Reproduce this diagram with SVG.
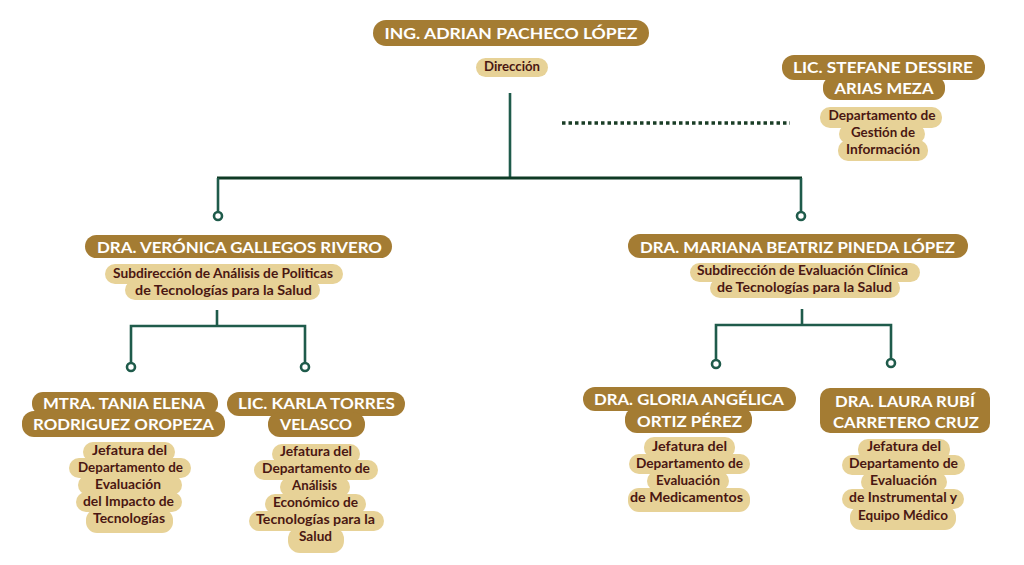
<svg xmlns="http://www.w3.org/2000/svg" width="1024" height="565" viewBox="0 0 1024 565">
<style>
.bg{fill:#ffffff}
.gold{fill:#a47c33}
.sand{fill:#e7d297}
.nm{font-family:Lato,"Open Sans","Liberation Sans",sans-serif;font-weight:700;fill:#ffffff;text-anchor:middle;font-size:15px}
.tt{font-family:Lato,"Open Sans","Liberation Sans",sans-serif;font-weight:700;fill:#4a1712;text-anchor:middle;font-size:12.5px}
.ln{stroke:#1f5b4b;stroke-width:2.6;fill:none}
.lnd{stroke:#0e3a25;stroke-width:3;fill:none}
.dot{fill:#ffffff;stroke:#1f5b4b;stroke-width:2.6}
.dash{stroke:#1a3d26;stroke-width:3.5;stroke-dasharray:3.5 3;fill:none}
</style>
<rect class="bg" x="0" y="0" width="1024" height="565"/>

<g id="connectors">
  <line class="ln" x1="510" y1="93" x2="510" y2="178"/>
  <line class="lnd" x1="217" y1="178" x2="802" y2="178"/>
  <line class="ln" x1="218" y1="178" x2="218" y2="212"/>
  <line class="ln" x1="801" y1="178" x2="801" y2="212"/>
  <circle class="dot" cx="218" cy="216" r="4"/>
  <circle class="dot" cx="801" cy="216" r="4"/>
  <line class="dash" x1="562" y1="123" x2="790" y2="123"/>
  <polyline class="ln" points="217,310 217,326"/>
  <polyline class="ln" points="131,363 131,326 305,326 305,363"/>
  <circle class="dot" cx="131" cy="367" r="4"/>
  <circle class="dot" cx="305" cy="367" r="4"/>
  <polyline class="ln" points="802,309 802,325"/>
  <polyline class="ln" points="716,360 716,325 891,325 891,359"/>
  <circle class="dot" cx="716" cy="364" r="4"/>
  <circle class="dot" cx="891" cy="363" r="4"/>
</g>

<g id="director">
  <rect class="gold" x="373" y="20" width="276" height="26" rx="13"/>
  <text class="nm" x="511" y="39" font-size="17" textLength="253" lengthAdjust="spacingAndGlyphs">ING. ADRIAN PACHECO LÓPEZ</text>
  <rect class="sand" x="476" y="58" width="72" height="19" rx="9.5"/>
  <text class="tt" x="512" y="71" textLength="56" lengthAdjust="spacingAndGlyphs">Dirección</text>
</g>

<g id="stefane">
  <rect class="gold" x="782" y="55" width="203" height="25" rx="12"/>
  <rect class="gold" x="823" y="76" width="122" height="24" rx="11"/>
  <text class="nm" x="883" y="73" textLength="180" lengthAdjust="spacingAndGlyphs">LIC. STEFANE DESSIRE</text>
  <text class="nm" x="884" y="94" textLength="99" lengthAdjust="spacingAndGlyphs">ARIAS MEZA</text>
  <rect class="sand" x="820" y="107" width="122" height="21" rx="10"/>
  <rect class="sand" x="839" y="124" width="86" height="20" rx="10"/>
  <rect class="sand" x="838" y="140" width="90" height="21" rx="10"/>
  <text class="tt" x="882" y="120" textLength="107" lengthAdjust="spacingAndGlyphs">Departamento de</text>
  <text class="tt" x="883" y="137" textLength="64" lengthAdjust="spacingAndGlyphs">Gestión de</text>
  <text class="tt" x="883" y="154" textLength="74" lengthAdjust="spacingAndGlyphs">Información</text>
</g>

<g id="veronica">
  <rect class="gold" x="85" y="235" width="307" height="23" rx="11.5"/>
  <text class="nm" x="239.5" y="252.5" textLength="285" lengthAdjust="spacingAndGlyphs">DRA. VERÓNICA GALLEGOS RIVERO</text>
  <rect class="sand" x="105" y="264" width="238" height="20" rx="10"/>
  <rect class="sand" x="125" y="280" width="195" height="20" rx="10"/>
  <text class="tt" x="223" y="277.5" textLength="220" lengthAdjust="spacingAndGlyphs">Subdirección de Análisis de Politicas</text>
  <text class="tt" x="223.5" y="294.5" textLength="177" lengthAdjust="spacingAndGlyphs">de Tecnologías para la Salud</text>
</g>

<g id="mariana">
  <rect class="gold" x="628" y="234" width="340" height="24" rx="12"/>
  <text class="nm" x="797.5" y="252.5" textLength="315" lengthAdjust="spacingAndGlyphs">DRA. MARIANA BEATRIZ PINEDA LÓPEZ</text>
  <rect class="sand" x="690" y="263" width="230" height="19" rx="9.5"/>
  <rect class="sand" x="710" y="278" width="190" height="20" rx="10"/>
  <text class="tt" x="802.5" y="274.5" textLength="211" lengthAdjust="spacingAndGlyphs">Subdirección de Evaluación Clínica</text>
  <text class="tt" x="804.5" y="291.5" textLength="175" lengthAdjust="spacingAndGlyphs">de Tecnologías para la Salud</text>
</g>

<g id="tania">
  <rect class="gold" x="32" y="392" width="186" height="23" rx="11"/>
  <rect class="gold" x="22" y="411" width="203" height="26" rx="12"/>
  <text class="nm" x="124" y="409" textLength="162" lengthAdjust="spacingAndGlyphs">MTRA. TANIA ELENA</text>
  <text class="nm" x="123.5" y="430" textLength="181" lengthAdjust="spacingAndGlyphs">RODRIGUEZ OROPEZA</text>
  <rect class="sand" x="83" y="442" width="92" height="20" rx="10"/>
  <rect class="sand" x="69" y="458" width="122" height="20" rx="10"/>
  <rect class="sand" x="78" y="475" width="104" height="20" rx="10"/>
  <rect class="sand" x="76" y="492" width="106" height="20" rx="10"/>
  <rect class="sand" x="86" y="509" width="87" height="24" rx="11"/>
  <text class="tt" x="129.5" y="454.5" textLength="75" lengthAdjust="spacingAndGlyphs">Jefatura del</text>
  <text class="tt" x="130.5" y="471.5" textLength="105" lengthAdjust="spacingAndGlyphs">Departamento de</text>
  <text class="tt" x="128" y="488.5" textLength="66" lengthAdjust="spacingAndGlyphs">Evaluación</text>
  <text class="tt" x="128.5" y="505.5" textLength="91" lengthAdjust="spacingAndGlyphs">del Impacto de</text>
  <text class="tt" x="129" y="522.5" textLength="72" lengthAdjust="spacingAndGlyphs">Tecnologías</text>
</g>

<g id="karla">
  <rect class="gold" x="227" y="392" width="178" height="24" rx="12"/>
  <rect class="gold" x="268" y="412" width="97" height="25" rx="12"/>
  <text class="nm" x="316.5" y="409" textLength="157" lengthAdjust="spacingAndGlyphs">LIC. KARLA TORRES</text>
  <text class="nm" x="316" y="430" textLength="72" lengthAdjust="spacingAndGlyphs">VELASCO</text>
  <rect class="sand" x="272" y="444" width="88" height="20" rx="10"/>
  <rect class="sand" x="254" y="460" width="124" height="20" rx="10"/>
  <rect class="sand" x="280" y="477" width="70" height="20" rx="10"/>
  <rect class="sand" x="265" y="494" width="101" height="20" rx="10"/>
  <rect class="sand" x="249" y="511" width="135" height="20" rx="10"/>
  <rect class="sand" x="288" y="527" width="56" height="26" rx="12"/>
  <text class="tt" x="316" y="456" textLength="72" lengthAdjust="spacingAndGlyphs">Jefatura del</text>
  <text class="tt" x="316" y="473" textLength="108" lengthAdjust="spacingAndGlyphs">Departamento de</text>
  <text class="tt" x="314.5" y="490" textLength="45" lengthAdjust="spacingAndGlyphs">Análisis</text>
  <text class="tt" x="315.5" y="507" textLength="85" lengthAdjust="spacingAndGlyphs">Económico de</text>
  <text class="tt" x="315.5" y="524" textLength="119" lengthAdjust="spacingAndGlyphs">Tecnologías para la</text>
  <text class="tt" x="315.5" y="541" textLength="33" lengthAdjust="spacingAndGlyphs">Salud</text>
</g>

<g id="gloria">
  <rect class="gold" x="583" y="387" width="213" height="24" rx="12"/>
  <rect class="gold" x="625" y="407" width="127" height="26" rx="12"/>
  <text class="nm" x="689" y="405" textLength="190" lengthAdjust="spacingAndGlyphs">DRA. GLORIA ANGÉLICA</text>
  <text class="nm" x="689.5" y="427" textLength="105" lengthAdjust="spacingAndGlyphs">ORTIZ PÉREZ</text>
  <rect class="sand" x="644" y="437" width="91" height="21" rx="10"/>
  <rect class="sand" x="629" y="454" width="121" height="20" rx="10"/>
  <rect class="sand" x="647" y="471" width="82" height="20" rx="10"/>
  <rect class="sand" x="628" y="488" width="122" height="24" rx="11"/>
  <text class="tt" x="689.5" y="451" textLength="75" lengthAdjust="spacingAndGlyphs">Jefatura del</text>
  <text class="tt" x="689.5" y="468" textLength="107" lengthAdjust="spacingAndGlyphs">Departamento de</text>
  <text class="tt" x="688" y="485" textLength="64" lengthAdjust="spacingAndGlyphs">Evaluación</text>
  <text class="tt" x="686.5" y="502" textLength="113" lengthAdjust="spacingAndGlyphs">de Medicamentos</text>
</g>

<g id="laura">
  <rect class="gold" x="820" y="388" width="170" height="45" rx="10"/>
  <text class="nm" x="905" y="407" textLength="140" lengthAdjust="spacingAndGlyphs">DRA. LAURA RUBÍ</text>
  <text class="nm" x="906" y="428" textLength="146" lengthAdjust="spacingAndGlyphs">CARRETERO CRUZ</text>
  <rect class="sand" x="858" y="439" width="92" height="21" rx="10"/>
  <rect class="sand" x="842" y="455" width="123" height="20" rx="10"/>
  <rect class="sand" x="861" y="472" width="86" height="20" rx="10"/>
  <rect class="sand" x="842" y="489" width="122" height="20" rx="10"/>
  <rect class="sand" x="850" y="506" width="106" height="24" rx="11"/>
  <text class="tt" x="904" y="451" textLength="74" lengthAdjust="spacingAndGlyphs">Jefatura del</text>
  <text class="tt" x="903.5" y="468" textLength="109" lengthAdjust="spacingAndGlyphs">Departamento de</text>
  <text class="tt" x="903.5" y="485" textLength="67" lengthAdjust="spacingAndGlyphs">Evaluación</text>
  <text class="tt" x="903" y="502" textLength="108" lengthAdjust="spacingAndGlyphs">de Instrumental y</text>
  <text class="tt" x="903" y="520" textLength="90" lengthAdjust="spacingAndGlyphs">Equipo Médico</text>
</g>
</svg>
